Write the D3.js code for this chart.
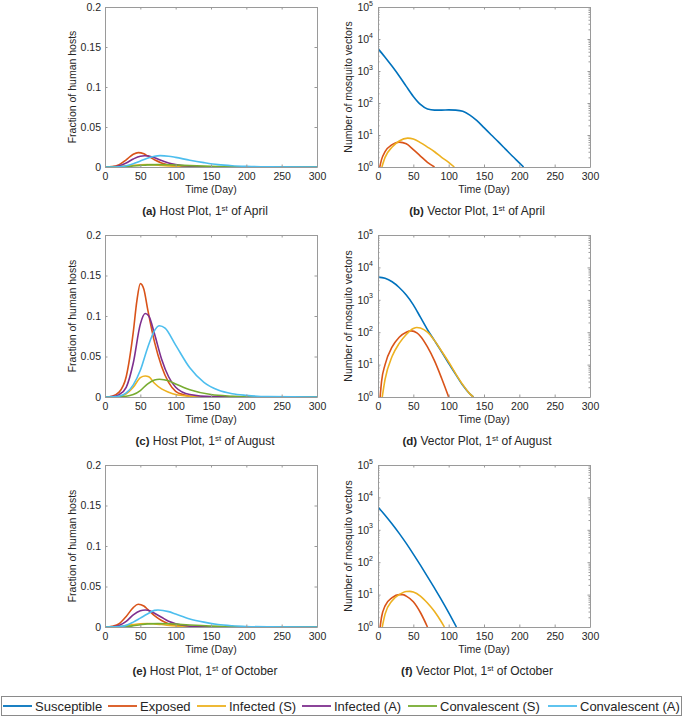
<!DOCTYPE html>
<html>
<head>
<meta charset="utf-8">
<script src="https://cdn.jsdelivr.net/npm/d3@7"></script>
<style>
  body { margin: 0; background: #fff; }
  text { font-family: "Liberation Sans", Arial, sans-serif; fill: #262626; }
</style>
</head>
<body>
<svg id="chart" width="685" height="717"></svg>
<script>
// series names + MATLAB default colours
var seriesNames = ["Susceptible", "Exposed", "Infected (S)", "Infected (A)", "Convalescent (S)", "Convalescent (A)"];
var seriesColors = ["#0072BD", "#D95319", "#EDB120", "#7E2F8E", "#77AC30", "#4DBEEE"];

var dayTicks = [0, 50, 100, 150, 200, 250, 300];
var hostTicks = [0, 0.05, 0.1, 0.15, 0.2];
var vectorTicks = [1, 10, 100, 1000, 10000, 100000];

// ---- host plot, 1st of April  [day, fraction]
var aprHostExposed = [[0,0],[10,0.0005],[20,0.003],[30,0.009],[40,0.016],[47,0.018],[55,0.0165],[60,0.014],[70,0.009],[80,0.005],[90,0.0025],[100,0.0012],[120,0.0003],[150,0],[300,0]];
var aprHostInfS = [[0,0],[20,0.0005],[30,0.0013],[40,0.0022],[50,0.0028],[60,0.003],[70,0.0027],[80,0.002],[100,0.0009],[120,0.0003],[150,0],[300,0]];
var aprHostInfA = [[0,0],[10,0.0002],[20,0.0015],[30,0.005],[40,0.01],[50,0.0135],[56,0.014],[62,0.0137],[70,0.0115],[80,0.008],[90,0.005],[100,0.003],[120,0.001],[150,0.0002],[300,0]];
var aprHostConvS = [[0,0],[30,0.0005],[40,0.0012],[50,0.002],[60,0.0027],[75,0.003],[90,0.0028],[100,0.0025],[120,0.0017],[150,0.0008],[200,0.0001],[300,0]];
var aprHostConvA = [[0,0],[20,0.0003],[30,0.0015],[40,0.004],[50,0.0075],[60,0.011],[70,0.0135],[78,0.0142],[90,0.0135],[100,0.012],[120,0.0085],[140,0.0055],[160,0.003],[180,0.0016],[200,0.0008],[230,0.0002],[300,0]];

// ---- vector plot, 1st of April  [day, count]
var aprVecSusc = [[0,5000],[10,2700],[20,1400],[30,700],[40,330],[50,160],[60,90],[70,65],[80,60],[90,60],[100,61],[110,60],[120,55],[130,42],[140,28],[150,17],[160,10.2],[170,6.2],[180,3.7],[190,2.2],[200,1.35],[206,1]];
var aprVecExposed = [[2.5,1],[5,1.7],[10,3],[20,5],[30,6],[40,5.3],[50,3.5],[60,2.2],[70,1.4],[80,1]];
var aprVecInfS = [[5.5,1],[10,2],[20,4.2],[30,6.5],[42,8],[50,7.5],[60,5.8],[70,4.2],[80,3],[90,2],[100,1.4],[108,1]];

// ---- host plot, 1st of August
var augHostExposed = [[0,0],[10,0.001],[20,0.006],[30,0.025],[40,0.08],[45,0.118],[50,0.14],[55,0.133],[60,0.11],[70,0.068],[80,0.038],[90,0.018],[100,0.007],[110,0.003],[120,0.001],[150,0],[300,0]];
var augHostInfS = [[0,0],[20,0.001],[30,0.004],[40,0.012],[50,0.024],[57,0.026],[62,0.025],[70,0.017],[80,0.01],[90,0.006],[100,0.003],[120,0.001],[150,0],[300,0]];
var augHostInfA = [[0,0],[10,0.0005],[20,0.003],[30,0.012],[40,0.042],[50,0.09],[57,0.103],[62,0.1],[70,0.078],[80,0.047],[90,0.025],[100,0.012],[120,0.003],[150,0.0005],[300,0]];
var augHostConvS = [[0,0],[30,0.001],[40,0.003],[50,0.008],[60,0.016],[70,0.021],[77,0.022],[90,0.02],[100,0.016],[120,0.009],[150,0.003],[180,0.001],[220,0],[300,0]];
var augHostConvA = [[0,0],[20,0.001],[30,0.005],[40,0.015],[50,0.033],[60,0.06],[70,0.082],[77,0.088],[85,0.085],[100,0.064],[120,0.036],[140,0.018],[160,0.0085],[180,0.004],[200,0.002],[230,0.0005],[300,0]];

// ---- vector plot, 1st of August
var augVecSusc = [[0,5000],[10,4600],[20,3600],[30,2400],[40,1400],[50,700],[60,290],[70,120],[80,55],[90,25],[100,11],[110,5],[120,2.3],[130,1.25],[135,1]];
var augVecExposed = [[3,1],[5,3],[10,10],[20,35],[30,70],[40,100],[47,110],[55,95],[60,75],[70,35],[80,13],[90,3.8],[100,1]];
var augVecInfS = [[6,1],[10,3.5],[20,18],[30,45],[40,85],[50,130],[55,140],[60,135],[70,100],[80,55],[90,26],[100,12],[110,5.2],[120,2.4],[130,1.25],[135,1]];

// ---- host plot, 1st of October
var octHostExposed = [[0,0],[10,0.001],[20,0.004],[30,0.013],[40,0.024],[47,0.028],[55,0.026],[60,0.022],[70,0.014],[80,0.008],[90,0.004],[100,0.002],[120,0.0005],[150,0],[300,0]];
var octHostInfS = [[0,0],[20,0.0006],[30,0.0017],[40,0.003],[50,0.004],[60,0.0043],[70,0.0038],[80,0.003],[100,0.0013],[120,0.0004],[150,0],[300,0]];
var octHostInfA = [[0,0],[10,0.0003],[20,0.002],[30,0.007],[40,0.015],[50,0.02],[57,0.021],[65,0.0195],[70,0.017],[80,0.012],[90,0.007],[100,0.004],[120,0.001],[150,0.0002],[300,0]];
var octHostConvS = [[0,0],[30,0.0006],[40,0.0015],[50,0.0028],[60,0.0038],[75,0.0042],[90,0.004],[100,0.0035],[120,0.0024],[150,0.0011],[200,0.0002],[300,0]];
var octHostConvA = [[0,0],[20,0.0005],[30,0.002],[40,0.006],[50,0.011],[60,0.016],[70,0.0205],[75,0.021],[90,0.019],[100,0.016],[120,0.01],[140,0.006],[160,0.003],[180,0.0015],[200,0.0007],[230,0.0002],[300,0]];

// ---- vector plot, 1st of October
var octVecSusc = [[0,5000],[10,2820],[20,1510],[30,776],[40,380],[50,178],[60,81],[70,36],[80,15.8],[90,6.8],[100,2.8],[111,1]];
var octVecExposed = [[3,1],[5,2],[10,4.5],[20,8],[30,10],[35,10],[40,9],[50,6],[60,2.8],[70,1]];
var octVecInfS = [[6,1],[10,2.5],[20,6.5],[30,10],[40,12.5],[45,12.6],[50,12],[60,9],[70,5.5],[80,3],[90,1.4],[94,1]];

var svg = d3.select("#chart");

var colLeft = { x: 105, w: 212 };
var colRight = { x: 378, w: 212 };
var rows = [{ y: 7, h: 160 }, { y: 235, h: 162 }, { y: 465, h: 162 }];

var panels = [
  { col: colLeft,  row: rows[0], type: "host",   letter: "(a)", kind: "Host Plot",   month: "April",   series: [[1, aprHostExposed], [2, aprHostInfS], [3, aprHostInfA], [4, aprHostConvS], [5, aprHostConvA]] },
  { col: colRight, row: rows[0], type: "vector", letter: "(b)", kind: "Vector Plot", month: "April",   series: [[0, aprVecSusc], [1, aprVecExposed], [2, aprVecInfS]] },
  { col: colLeft,  row: rows[1], type: "host",   letter: "(c)", kind: "Host Plot",   month: "August",  series: [[1, augHostExposed], [2, augHostInfS], [3, augHostInfA], [4, augHostConvS], [5, augHostConvA]] },
  { col: colRight, row: rows[1], type: "vector", letter: "(d)", kind: "Vector Plot", month: "August",  series: [[0, augVecSusc], [1, augVecExposed], [2, augVecInfS]] },
  { col: colLeft,  row: rows[2], type: "host",   letter: "(e)", kind: "Host Plot",   month: "October", series: [[1, octHostExposed], [2, octHostInfS], [3, octHostInfA], [4, octHostConvS], [5, octHostConvA]] },
  { col: colRight, row: rows[2], type: "vector", letter: "(f)", kind: "Vector Plot", month: "October", series: [[0, octVecSusc], [1, octVecExposed], [2, octVecInfS]] }
];

var axisGrey = "#9a9a9a";

panels.forEach(function(p, i) {
  var w = p.col.w, h = p.row.h;
  var g = svg.append("g").attr("transform", `translate(${p.col.x}, ${p.row.y})`);

  var x = d3.scaleLinear().domain([0, 300]).range([0, w]);
  var y = p.type === "host"
    ? d3.scaleLinear().domain([0, 0.2]).range([h, 0])
    : d3.scaleLog().domain([1, 1e5]).range([h, 0]);

  // clip lines to plot box
  g.append("clipPath").attr("id", "clip" + i)
    .append("rect").attr("width", w).attr("height", h);

  var line = d3.line()
    .x(d => x(d[0]))
    .y(d => y(d[1]))
    .curve(d3.curveMonotoneX);

  var lines = g.append("g").attr("clip-path", `url(#clip${i})`);
  p.series.forEach(function(s) {
    lines.append("path")
      .datum(s[1])
      .attr("d", line)
      .attr("fill", "none")
      .attr("stroke", seriesColors[s[0]])
      .attr("stroke-width", 1.6)
      .attr("stroke-linejoin", "round");
  });

  // bottom axis
  var bottom = g.append("g")
    .attr("transform", `translate(0, ${h})`)
    .call(d3.axisBottom(x).tickValues(dayTicks).tickSizeInner(-2.5).tickSizeOuter(0).tickPadding(6));
  // top axis (ticks only)
  var top = g.append("g")
    .call(d3.axisTop(x).tickValues(dayTicks).tickSizeInner(-2.5).tickSizeOuter(0).tickFormat(""));

  var left, right;
  if (p.type === "host") {
    left = g.append("g")
      .call(d3.axisLeft(y).tickValues(hostTicks).tickSizeInner(-2.5).tickSizeOuter(0).tickPadding(4)
        .tickFormat(d => d === 0 ? "0" : String(+d.toFixed(2))));
    right = g.append("g").attr("transform", `translate(${w}, 0)`)
      .call(d3.axisRight(y).tickValues(hostTicks).tickSizeInner(-2.5).tickSizeOuter(0).tickFormat(""));
  } else {
    left = g.append("g")
      .call(d3.axisLeft(y).tickValues(vectorTicks).tickSizeInner(-2.5).tickSizeOuter(0).tickPadding(9).tickFormat(""));
    right = g.append("g").attr("transform", `translate(${w}, 0)`)
      .call(d3.axisRight(y).tickValues(vectorTicks).tickSizeInner(-2.5).tickSizeOuter(0).tickFormat(""));

    // minor log ticks
    var minor = [];
    for (var k = 0; k < 5; k++) for (var m = 2; m < 10; m++) minor.push(m * Math.pow(10, k));
    var ml = g.append("g").call(d3.axisLeft(y).tickValues(minor).tickSizeInner(-1.5).tickSizeOuter(0).tickFormat(""));
    var mr = g.append("g").attr("transform", `translate(${w}, 0)`)
      .call(d3.axisRight(y).tickValues(minor).tickSizeInner(-1.5).tickSizeOuter(0).tickFormat(""));
    [ml, mr].forEach(a => { a.select(".domain").remove(); a.selectAll("line").attr("stroke", axisGrey); });

    // 10^n labels
    left.selectAll(".tick").each(function(d) {
      var t = d3.select(this).append("text")
        .attr("x", -5).attr("dy", "0.32em")
        .attr("text-anchor", "end");
      t.append("tspan").text("10");
      t.append("tspan").attr("class", "exp").attr("dy", "-0.75em").text(Math.round(Math.log10(d)));
    });
  }

  [bottom, top, left, right].forEach(function(a) {
    a.select(".domain").attr("stroke", axisGrey).attr("stroke-width", 1);
    a.selectAll(".tick line").attr("stroke", axisGrey);
    a.selectAll("text").attr("font-size", 10.5).attr("fill", "#262626")
      .attr("font-family", '"Liberation Sans", Arial, sans-serif');
  });
  left.selectAll("tspan.exp").attr("font-size", 7);

  // axis titles
  g.append("text")
    .attr("x", w / 2).attr("y", h + 26)
    .attr("text-anchor", "middle")
    .attr("font-size", 10.5)
    .text("Time (Day)");

  g.append("text")
    .attr("transform", `translate(${p.type === "host" ? -29 : -26}, ${h / 2}) rotate(-90)`)
    .attr("text-anchor", "middle")
    .attr("font-size", 10.5)
    .text(p.type === "host" ? "Fraction of human hosts" : "Number of mosquito vectors");

  // sub-caption
  var cap = g.append("text")
    .attr("x", w / 2 + (p.type === "host" ? -6 : -7)).attr("y", h + 48)
    .attr("text-anchor", "middle")
    .attr("font-size", 12)
    .attr("font-family", '"Liberation Serif", "Times New Roman", serif');
  cap.append("tspan").attr("font-family", '"Liberation Sans", Arial, sans-serif').attr("font-weight", "bold").attr("font-size", 11.5).text(p.letter);
  cap.append("tspan").text(" " + p.kind + ", 1");
  cap.append("tspan").attr("font-size", 8).attr("dy", -4.5).text("st");
  cap.append("tspan").attr("dy", 4.5).text(" of " + p.month);
});

// legend
var legend = svg.append("g");
legend.append("rect")
  .attr("x", 1.5).attr("y", 696.5)
  .attr("width", 680).attr("height", 19)
  .attr("fill", "#fff")
  .attr("stroke", "#8a8a8a")
  .attr("stroke-width", 1);

var legendX = [3, 108, 197, 302, 408, 548];
seriesNames.forEach(function(name, i) {
  var item = legend.append("g").attr("transform", `translate(${legendX[i]}, 706)`);
  item.append("line")
    .attr("x1", 0).attr("x2", 29)
    .attr("stroke", seriesColors[i])
    .attr("stroke-width", 1.8);
  item.append("text")
    .attr("x", 32).attr("y", 4.6)
    .attr("font-size", 13)
    .text(name);
});
</script>
</body>
</html>
